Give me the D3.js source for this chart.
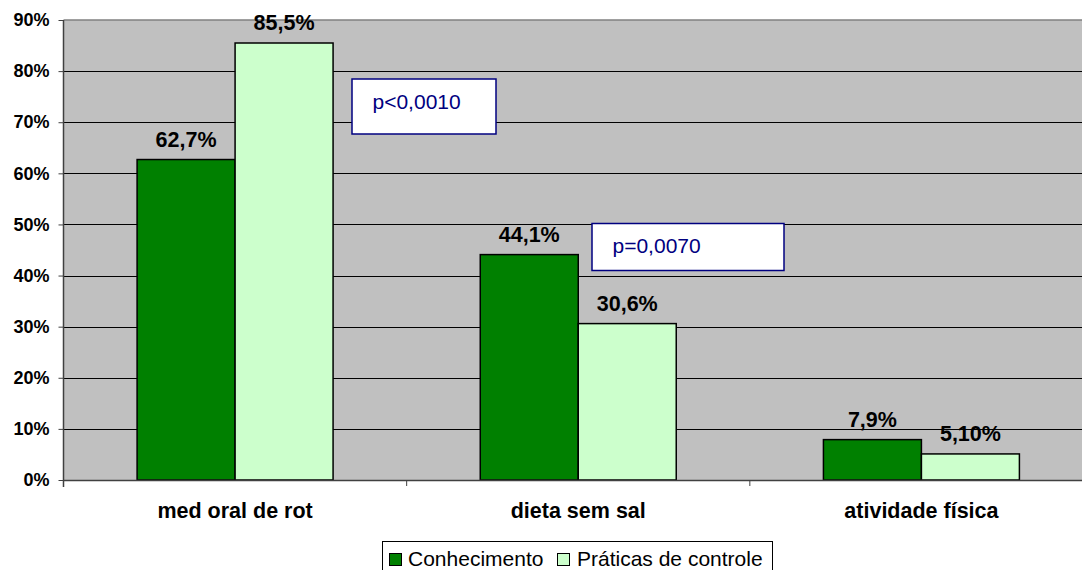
<!DOCTYPE html>
<html><head><meta charset="utf-8">
<script src="https://cdn.jsdelivr.net/npm/d3@7"></script>
<style>body{margin:0;background:#fff}svg{display:block}</style>
</head><body>
<svg id="c" width="1082" height="570"></svg>
<script>
const categories = ["med oral de rot", "dieta sem sal", "atividade física"];
const seriesNames = ["Conhecimento", "Práticas de controle"];
const conhecimento = [62.7, 44.1, 7.9];
const praticas = [85.5, 30.6, 5.1];
const labelsConhecimento = ["62,7%", "44,1%", "7,9%"];
const labelsPraticas = ["85,5%", "30,6%", "5,10%"];
const yTicks = [0,10,20,30,40,50,60,70,80,90];
const annotations = [{text:"p<0,0010", cat:0}, {text:"p=0,0070", cat:1}];

const colors = ["#008000", "#CCFFCC"];
const svg = d3.select("#c");
const L = 63.5, T = 20, B = 480, R = 1093;
const x = d3.scaleBand().domain(categories).range([L, R]);
const y = d3.scaleLinear().domain([0, 90]).range([B, T]);
const font = "Arial, 'Liberation Sans', sans-serif";

svg.append("rect").attr("x", L).attr("y", T).attr("width", R - L).attr("height", B - T).attr("fill", "#C0C0C0");
svg.append("line").attr("x1", L).attr("x2", R).attr("y1", T).attr("y2", T).attr("stroke", "#808080").attr("stroke-width", 1.5);

const grid = svg.append("g");
yTicks.filter(t => t > 0 && t < 90).forEach(t => {
  grid.append("line").attr("x1", L).attr("x2", R).attr("y1", Math.round(y(t))+0.5).attr("y2", Math.round(y(t))+0.5).attr("stroke", "#000").attr("stroke-width", 1);
});

const yAxis = d3.axisLeft(y).tickValues(yTicks).tickFormat(d => d + "%").tickSize(5).tickPadding(9);
const gy = svg.append("g").attr("transform", `translate(${L},0)`).call(yAxis);
gy.select(".domain").attr("stroke", "#404040").attr("stroke-width", 1.5).attr("d", `M0,${T}V${B+7}`);
gy.selectAll(".tick line").attr("stroke", "#404040");
gy.selectAll("text").attr("font-family", font).attr("font-weight", "bold").attr("font-size", 18).attr("fill", "#000");

const xb = d3.scaleBand().domain(d3.range(2)).range([0, x.bandwidth()]).paddingOuter(0.751).paddingInner(0);
const data = [conhecimento, praticas];
const labels = [labelsConhecimento, labelsPraticas];
categories.forEach((c, i) => {
  [0,1].forEach(s => {
    const v = data[s][i];
    const bx = x(c) + xb(s);
    svg.append("rect").attr("x", bx).attr("y", y(v)).attr("width", xb.bandwidth()).attr("height", B - y(v))
      .attr("fill", colors[s]).attr("stroke", "#000").attr("stroke-width", 1.5);
    svg.append("text").attr("x", bx + xb.bandwidth()/2).attr("y", y(v) - 13).attr("text-anchor", "middle")
      .attr("font-family", font).attr("font-weight", "bold").attr("font-size", 21.5).text(labels[s][i]);
  });
});

// x axis
svg.append("line").attr("x1", L).attr("x2", R).attr("y1", B+0.5).attr("y2", B+0.5).attr("stroke", "#404040").attr("stroke-width", 1.5);
categories.forEach((c, i) => {
  if (i > 0) svg.append("line").attr("x1", x(c)).attr("x2", x(c)).attr("y1", B).attr("y2", B+6).attr("stroke", "#404040");
  svg.append("text").attr("x", x(c) + x.bandwidth()/2).attr("y", 518).attr("text-anchor", "middle")
    .attr("font-family", font).attr("font-weight", "bold").attr("font-size", 21.5).text(c);
});

// annotations
const annBoxes = [{x:352, y:79, w:144, h:55}, {x:592, y:223.5, w:192, h:47}];
const annText = [{dx:20.5, y:109}, {dx:20.5, y:253}];
annotations.forEach((a, i) => {
  const b = annBoxes[i];
  svg.append("rect").attr("x", b.x).attr("y", b.y).attr("width", b.w).attr("height", b.h).attr("fill", "#fff").attr("stroke", "#000080").attr("stroke-width", 1.5);
  svg.append("text").attr("x", b.x + annText[i].dx).attr("y", annText[i].y).attr("font-family", font).attr("font-size", 21).attr("fill", "#000080").text(a.text);
});

// legend
const lg = svg.append("g");
lg.append("rect").attr("x", 382.5).attr("y", 541.5).attr("width", 390).attr("height", 40).attr("fill", "#fff").attr("stroke", "#000").attr("stroke-width", 1);
const items = [{x:389.5, tx:408}, {x:557.5, tx:577}];
seriesNames.forEach((n, i) => {
  lg.append("rect").attr("x", items[i].x).attr("y", 553.5).attr("width", 12).attr("height", 12).attr("fill", colors[i]).attr("stroke", "#000").attr("stroke-width", 1);
  lg.append("text").attr("x", items[i].tx).attr("y", 566).attr("font-family", font).attr("font-size", 21).text(n);
});
</script>
</body></html>
